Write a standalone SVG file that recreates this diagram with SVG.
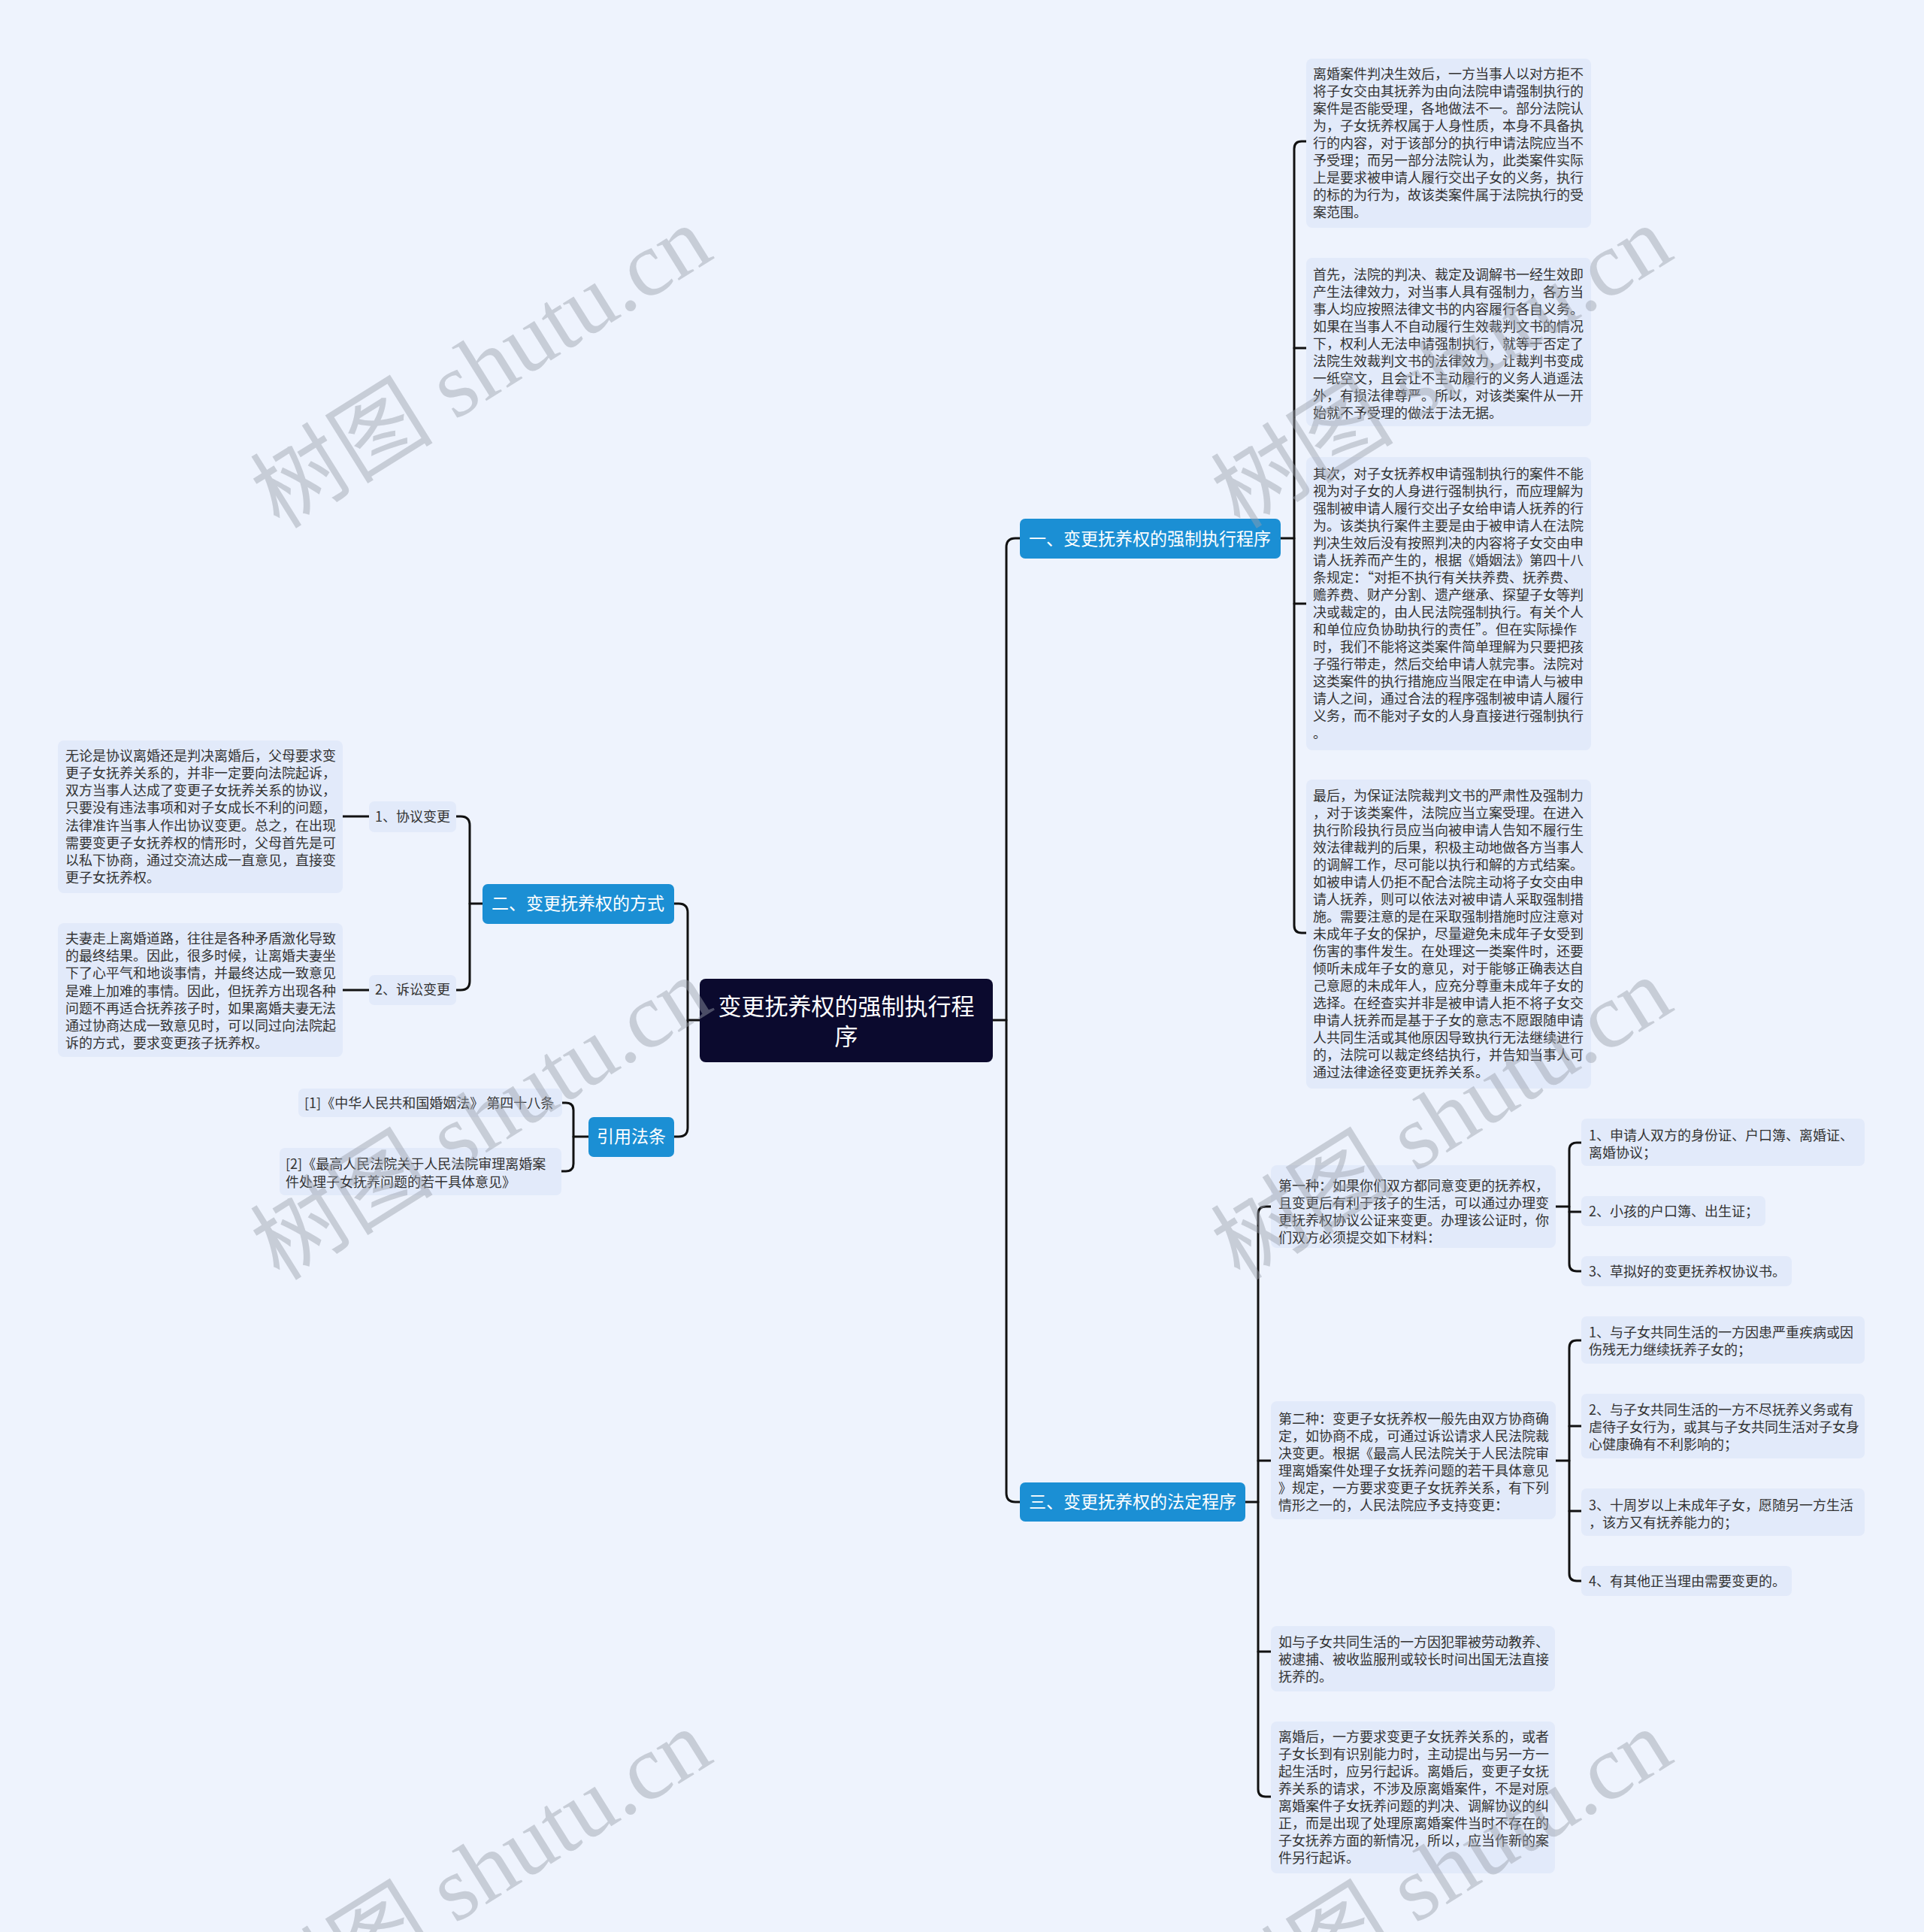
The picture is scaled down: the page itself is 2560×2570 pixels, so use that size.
<svg xmlns="http://www.w3.org/2000/svg" width="2560" height="2570" viewBox="0 0 2560 2570">
<style>
.bg{fill:#eef3fd}
.box{fill:#e2eafa}
.branch{fill:#1b8fd4}
.root{fill:#0b0a2e}
.t{font-family:"Noto Sans CJK SC","Noto Sans",sans-serif;font-size:18px;fill:#333}
.bt{font-family:"Noto Sans CJK SC","Noto Sans",sans-serif;font-size:23px;fill:#fff;text-anchor:middle}
.rt{font-family:"Noto Sans CJK SC","Noto Sans",sans-serif;font-size:31px;fill:#fff;text-anchor:middle}
.c{fill:none;stroke:#111;stroke-width:3;stroke-linecap:round}
.wm{font-family:"Liberation Serif","Noto Sans CJK SC",serif;font-size:122px;fill:#9aa0ab;opacity:0.45}
</style>
<rect class="bg" x="0" y="0" width="2560" height="2570"/>

<g id="connectors">
<path class="c" d="M1321,1357 H1339"/>
<path class="c" d="M1357,716 H1351 Q1339,716 1339,728 V1986 Q1339,1998 1351,1998 H1357"/>
<path class="c" d="M931,1357 H915"/>
<path class="c" d="M897,1202 H903 Q915,1202 915,1214 V1500 Q915,1512 903,1512 H897"/>
<path class="c" d="M1704,716 H1722"/>
<path class="c" d="M1738,188 H1732 Q1722,188 1722,198 V1231 Q1722,1241 1732,1241 H1738"/>
<path class="c" d="M1722,463 H1738 M1722,803 H1738"/>
<path class="c" d="M1657,1998 H1674"/>
<path class="c" d="M1691,1605 H1684 Q1674,1605 1674,1615 V2380 Q1674,2390 1684,2390 H1691"/>
<path class="c" d="M1674,1943 H1691 M1674,2197 H1691"/>
<path class="c" d="M2070,1605 H2088"/>
<path class="c" d="M2104,1520 H2098 Q2088,1520 2088,1530 V1681 Q2088,1691 2098,1691 H2104"/>
<path class="c" d="M2088,1612 H2104"/>
<path class="c" d="M2070,1943 H2088"/>
<path class="c" d="M2104,1783 H2098 Q2088,1783 2088,1793 V2093 Q2088,2103 2098,2103 H2104"/>
<path class="c" d="M2088,1897 H2104 M2088,2010 H2104"/>
<path class="c" d="M642,1202 H625"/>
<path class="c" d="M607,1086 H613 Q625,1086 625,1098 V1305 Q625,1317 613,1317 H607"/>
<path class="c" d="M456,1086 H491 M456,1317 H491"/>
<path class="c" d="M783,1512 H763"/>
<path class="c" d="M747,1467 H753 Q763,1467 763,1477 V1548 Q763,1558 753,1558 H747"/>
</g>

<g id="root">
<rect class="root" x="931" y="1302" width="390" height="111" rx="8"/>
<text class="rt" x="1126" y="1350">变更抚养权的强制执行程</text>
<text class="rt" x="1126" y="1390">序</text>
</g>

<g id="branch1">
<rect class="branch" x="1357" y="690" width="347" height="53" rx="7"/>
<text class="bt" x="1530" y="725">一、变更抚养权的强制执行程序</text>
</g>
<g id="branch2">
<rect class="branch" x="642" y="1176" width="255" height="53" rx="7"/>
<text class="bt" x="769" y="1210">二、变更抚养权的方式</text>
</g>
<g id="branch3">
<rect class="branch" x="1357" y="1972" width="300" height="52" rx="7"/>
<text class="bt" x="1507" y="2006">三、变更抚养权的法定程序</text>
</g>
<g id="branch4">
<rect class="branch" x="783" y="1486" width="114" height="53" rx="7"/>
<text class="bt" x="840" y="1520">引用法条</text>
</g>

<g id="n1a">
<rect class="box" x="1738" y="78" width="379" height="225" rx="8"/>
<text class="t">
<tspan x="1747" y="105">离婚案件判决生效后，一方当事人以对方拒不</tspan>
<tspan x="1747" y="128">将子女交由其抚养为由向法院申请强制执行的</tspan>
<tspan x="1747" y="151">案件是否能受理，各地做法不一。部分法院认</tspan>
<tspan x="1747" y="174">为，子女抚养权属于人身性质，本身不具备执</tspan>
<tspan x="1747" y="197">行的内容，对于该部分的执行申请法院应当不</tspan>
<tspan x="1747" y="220">予受理；而另一部分法院认为，此类案件实际</tspan>
<tspan x="1747" y="243">上是要求被申请人履行交出子女的义务，执行</tspan>
<tspan x="1747" y="266">的标的为行为，故该类案件属于法院执行的受</tspan>
<tspan x="1747" y="289">案范围。</tspan>
</text>
</g>

<g id="n1b">
<rect class="box" x="1738" y="343" width="379" height="224" rx="8"/>
<text class="t">
<tspan x="1747" y="372">首先，法院的判决、裁定及调解书一经生效即</tspan>
<tspan x="1747" y="395">产生法律效力，对当事人具有强制力，各方当</tspan>
<tspan x="1747" y="418">事人均应按照法律文书的内容履行各自义务。</tspan>
<tspan x="1747" y="441">如果在当事人不自动履行生效裁判文书的情况</tspan>
<tspan x="1747" y="464">下，权利人无法申请强制执行，就等于否定了</tspan>
<tspan x="1747" y="487">法院生效裁判文书的法律效力，让裁判书变成</tspan>
<tspan x="1747" y="510">一纸空文，且会让不主动履行的义务人逍遥法</tspan>
<tspan x="1747" y="533">外，有损法律尊严。所以，对该类案件从一开</tspan>
<tspan x="1747" y="556">始就不予受理的做法于法无据。</tspan>
</text>
</g>

<g id="n1c">
<rect class="box" x="1738" y="608" width="379" height="390" rx="8"/>
<text class="t">
<tspan x="1747" y="637">其次，对子女抚养权申请强制执行的案件不能</tspan>
<tspan x="1747" y="660">视为对子女的人身进行强制执行，而应理解为</tspan>
<tspan x="1747" y="683">强制被申请人履行交出子女给申请人抚养的行</tspan>
<tspan x="1747" y="706">为。该类执行案件主要是由于被申请人在法院</tspan>
<tspan x="1747" y="729">判决生效后没有按照判决的内容将子女交由申</tspan>
<tspan x="1747" y="752">请人抚养而产生的，根据《婚姻法》第四十八</tspan>
<tspan x="1747" y="775">条规定：“对拒不执行有关扶养费、抚养费、</tspan>
<tspan x="1747" y="798">赡养费、财产分割、遗产继承、探望子女等判</tspan>
<tspan x="1747" y="821">决或裁定的，由人民法院强制执行。有关个人</tspan>
<tspan x="1747" y="844">和单位应负协助执行的责任”。但在实际操作</tspan>
<tspan x="1747" y="867">时，我们不能将这类案件简单理解为只要把孩</tspan>
<tspan x="1747" y="890">子强行带走，然后交给申请人就完事。法院对</tspan>
<tspan x="1747" y="913">这类案件的执行措施应当限定在申请人与被申</tspan>
<tspan x="1747" y="936">请人之间，通过合法的程序强制被申请人履行</tspan>
<tspan x="1747" y="959">义务，而不能对子女的人身直接进行强制执行</tspan>
<tspan x="1747" y="982">。</tspan>
</text>
</g>

<g id="n1d">
<rect class="box" x="1738" y="1037" width="379" height="411" rx="8"/>
<text class="t">
<tspan x="1747" y="1065">最后，为保证法院裁判文书的严肃性及强制力</tspan>
<tspan x="1747" y="1088">，对于该类案件，法院应当立案受理。在进入</tspan>
<tspan x="1747" y="1111">执行阶段执行员应当向被申请人告知不履行生</tspan>
<tspan x="1747" y="1134">效法律裁判的后果，积极主动地做各方当事人</tspan>
<tspan x="1747" y="1157">的调解工作，尽可能以执行和解的方式结案。</tspan>
<tspan x="1747" y="1180">如被申请人仍拒不配合法院主动将子女交由申</tspan>
<tspan x="1747" y="1203">请人抚养，则可以依法对被申请人采取强制措</tspan>
<tspan x="1747" y="1226">施。需要注意的是在采取强制措施时应注意对</tspan>
<tspan x="1747" y="1249">未成年子女的保护，尽量避免未成年子女受到</tspan>
<tspan x="1747" y="1272">伤害的事件发生。在处理这一类案件时，还要</tspan>
<tspan x="1747" y="1295">倾听未成年子女的意见，对于能够正确表达自</tspan>
<tspan x="1747" y="1318">己意愿的未成年人，应充分尊重未成年子女的</tspan>
<tspan x="1747" y="1341">选择。在经查实并非是被申请人拒不将子女交</tspan>
<tspan x="1747" y="1364">申请人抚养而是基于子女的意志不愿跟随申请</tspan>
<tspan x="1747" y="1387">人共同生活或其他原因导致执行无法继续进行</tspan>
<tspan x="1747" y="1410">的，法院可以裁定终结执行，并告知当事人可</tspan>
<tspan x="1747" y="1433">通过法律途径变更抚养关系。</tspan>
</text>
</g>

<g id="n2a">
<rect class="box" x="491" y="1066" width="116" height="41" rx="7"/>
<text class="t" x="549" y="1093" text-anchor="middle">1、协议变更</text>
</g>
<g id="n2b">
<rect class="box" x="491" y="1297" width="116" height="40" rx="7"/>
<text class="t" x="549" y="1323" text-anchor="middle">2、诉讼变更</text>
</g>

<g id="n2a1">
<rect class="box" x="77" y="985" width="379" height="203" rx="8"/>
<text class="t">
<tspan x="87" y="1012">无论是协议离婚还是判决离婚后，父母要求变</tspan>
<tspan x="87" y="1035">更子女抚养关系的，并非一定要向法院起诉，</tspan>
<tspan x="87" y="1058">双方当事人达成了变更子女抚养关系的协议，</tspan>
<tspan x="87" y="1081">只要没有违法事项和对子女成长不利的问题，</tspan>
<tspan x="87" y="1105">法律准许当事人作出协议变更。总之，在出现</tspan>
<tspan x="87" y="1128">需要变更子女抚养权的情形时，父母首先是可</tspan>
<tspan x="87" y="1151">以私下协商，通过交流达成一直意见，直接变</tspan>
<tspan x="87" y="1174">更子女抚养权。</tspan>
</text>
</g>

<g id="n2b1">
<rect class="box" x="77" y="1228" width="379" height="178" rx="8"/>
<text class="t">
<tspan x="87" y="1255">夫妻走上离婚道路，往往是各种矛盾激化导致</tspan>
<tspan x="87" y="1278">的最终结果。因此，很多时候，让离婚夫妻坐</tspan>
<tspan x="87" y="1301">下了心平气和地谈事情，并最终达成一致意见</tspan>
<tspan x="87" y="1325">是难上加难的事情。因此，但抚养方出现各种</tspan>
<tspan x="87" y="1348">问题不再适合抚养孩子时，如果离婚夫妻无法</tspan>
<tspan x="87" y="1371">通过协商达成一致意见时，可以同过向法院起</tspan>
<tspan x="87" y="1394">诉的方式，要求变更孩子抚养权。</tspan>
</text>
</g>

<g id="n4a">
<rect class="box" x="397" y="1448" width="351" height="38" rx="7"/>
<text class="t" x="405" y="1474">[1]《中华人民共和国婚姻法》 第四十八条</text>
</g>
<g id="n4b">
<rect class="box" x="372" y="1527" width="375" height="63" rx="7"/>
<text class="t">
<tspan x="380" y="1555">[2]《最高人民法院关于人民法院审理离婚案</tspan>
<tspan x="380" y="1579">件处理子女抚养问题的若干具体意见》</tspan>
</text>
</g>

<g id="n3a">
<rect class="box" x="1691" y="1550" width="379" height="110" rx="8"/>
<text class="t">
<tspan x="1701" y="1584">第一种：如果你们双方都同意变更的抚养权，</tspan>
<tspan x="1701" y="1607">且变更后有利于孩子的生活，可以通过办理变</tspan>
<tspan x="1701" y="1630">更抚养权协议公证来变更。办理该公证时，你</tspan>
<tspan x="1701" y="1653">们双方必须提交如下材料：</tspan>
</text>
</g>
<g id="n3a1">
<rect class="box" x="2104" y="1488" width="377" height="63" rx="7"/>
<text class="t">
<tspan x="2114" y="1517">1、申请人双方的身份证、户口簿、离婚证、</tspan>
<tspan x="2114" y="1540">离婚协议；</tspan>
</text>
</g>
<g id="n3a2">
<rect class="box" x="2104" y="1591" width="245" height="40" rx="7"/>
<text class="t" x="2114" y="1618">2、小孩的户口簿、出生证；</text>
</g>
<g id="n3a3">
<rect class="box" x="2104" y="1671" width="280" height="40" rx="7"/>
<text class="t" x="2114" y="1698">3、草拟好的变更抚养权协议书。</text>
</g>

<g id="n3b">
<rect class="box" x="1691" y="1864" width="379" height="157" rx="8"/>
<text class="t">
<tspan x="1701" y="1894">第二种：变更子女抚养权一般先由双方协商确</tspan>
<tspan x="1701" y="1917">定，如协商不成，可通过诉讼请求人民法院裁</tspan>
<tspan x="1701" y="1940">决变更。根据《最高人民法院关于人民法院审</tspan>
<tspan x="1701" y="1963">理离婚案件处理子女抚养问题的若干具体意见</tspan>
<tspan x="1701" y="1986">》规定，一方要求变更子女抚养关系，有下列</tspan>
<tspan x="1701" y="2009">情形之一的，人民法院应予支持变更：</tspan>
</text>
</g>
<g id="n3b1">
<rect class="box" x="2104" y="1751" width="377" height="63" rx="7"/>
<text class="t">
<tspan x="2114" y="1779">1、与子女共同生活的一方因患严重疾病或因</tspan>
<tspan x="2114" y="1802">伤残无力继续抚养子女的；</tspan>
</text>
</g>
<g id="n3b2">
<rect class="box" x="2104" y="1854" width="377" height="86" rx="7"/>
<text class="t">
<tspan x="2114" y="1882">2、与子女共同生活的一方不尽抚养义务或有</tspan>
<tspan x="2114" y="1905">虐待子女行为，或其与子女共同生活对子女身</tspan>
<tspan x="2114" y="1928">心健康确有不利影响的；</tspan>
</text>
</g>
<g id="n3b3">
<rect class="box" x="2104" y="1980" width="377" height="63" rx="7"/>
<text class="t">
<tspan x="2114" y="2009">3、十周岁以上未成年子女，愿随另一方生活</tspan>
<tspan x="2114" y="2032">，该方又有抚养能力的；</tspan>
</text>
</g>
<g id="n3b4">
<rect class="box" x="2104" y="2083" width="280" height="40" rx="7"/>
<text class="t" x="2114" y="2110">4、有其他正当理由需要变更的。</text>
</g>

<g id="n3c">
<rect class="box" x="1691" y="2163" width="378" height="87" rx="8"/>
<text class="t">
<tspan x="1701" y="2191">如与子女共同生活的一方因犯罪被劳动教养、</tspan>
<tspan x="1701" y="2214">被逮捕、被收监服刑或较长时间出国无法直接</tspan>
<tspan x="1701" y="2237">抚养的。</tspan>
</text>
</g>
<g id="n3d">
<rect class="box" x="1691" y="2290" width="378" height="202" rx="8"/>
<text class="t">
<tspan x="1701" y="2317">离婚后，一方要求变更子女抚养关系的，或者</tspan>
<tspan x="1701" y="2340">子女长到有识别能力时，主动提出与另一方一</tspan>
<tspan x="1701" y="2363">起生活时，应另行起诉。离婚后，变更子女抚</tspan>
<tspan x="1701" y="2386">养关系的请求，不涉及原离婚案件，不是对原</tspan>
<tspan x="1701" y="2409">离婚案件子女抚养问题的判决、调解协议的纠</tspan>
<tspan x="1701" y="2432">正，而是出现了处理原离婚案件当时不存在的</tspan>
<tspan x="1701" y="2455">子女抚养方面的新情况，所以，应当作新的案</tspan>
<tspan x="1701" y="2478">件另行起诉。</tspan>
</text>
</g>

<g id="watermarks">
<text class="wm" transform="translate(372,705) rotate(-32)">树图 shutu.cn</text>
<text class="wm" transform="translate(1650,705) rotate(-32)">树图 shutu.cn</text>
<text class="wm" transform="translate(372,1705) rotate(-32)">树图 shutu.cn</text>
<text class="wm" transform="translate(1650,1705) rotate(-32)">树图 shutu.cn</text>
<text class="wm" transform="translate(372,2705) rotate(-32)">树图 shutu.cn</text>
<text class="wm" transform="translate(1650,2705) rotate(-32)">树图 shutu.cn</text>
</g>
</svg>
